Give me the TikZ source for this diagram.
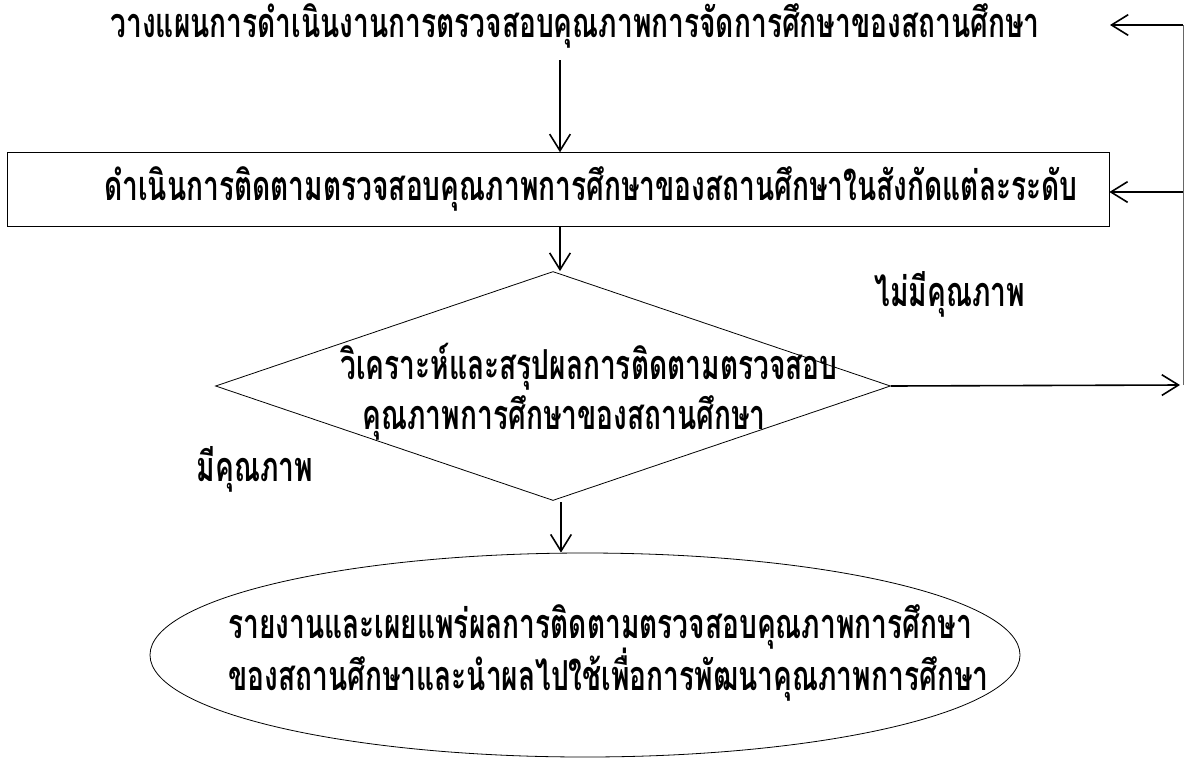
\documentclass[tikz,border=0pt]{standalone}
\usepackage{fontspec}
\newfontfamily\thai[Script=Thai,FakeStretch=0.68]{Loma}
\usetikzlibrary{arrows.meta,shapes.geometric}
\begin{document}
\begin{tikzpicture}[x=0.75pt,y=-0.75pt,
  txt/.style={font=\thai\bfseries\fontsize{31}{35}\selectfont, inner sep=0pt},
  arr/.style={-{Straight Barb[length=12.5pt,width=15.5pt]}, line width=1.2pt},
  thin/.style={line width=0.6pt}]
\useasboundingbox[fill=white] (0,0) rectangle (1191,764);
% texts
\node[txt, anchor=base] (t1) at (575,37) {วางแผนการดำเนินงานการตรวจสอบคุณภาพการจัดการศึกษาของสถานศึกษา};
\node[draw, thin, minimum width=826.5pt, minimum height=55.5pt, inner sep=0pt] (box) at (558,189.7) {};
\node[txt, anchor=base] (boxt) at (591,200) {ดำเนินการติดตามตรวจสอบคุณภาพการศึกษาของสถานศึกษาในสังกัดแต่ละระดับ};
\node[draw, thin, diamond, inner sep=0pt, aspect=2.95, minimum width=506.25pt, minimum height=171.75pt] (dia) at (553,386) {};
\node[txt, anchor=base] (d1) at (589,379) {วิเคราะห์และสรุปผลการติดตามตรวจสอบ};
\node[txt, anchor=base] (d2) at (564,429) {คุณภาพการศึกษาของสถานศึกษา};
\node[txt, anchor=base] (no) at (950,306) {ไม่มีคุณภาพ};
\node[txt, anchor=base] (yes) at (255,481) {มีคุณภาพ};
\node[draw, thin, ellipse, inner sep=0pt, minimum width=652.5pt, minimum height=153pt] (ell) at (585,655) {};
\node[txt, anchor=base west] (e1) at (228,638) {รายงานและเผยแพร่ผลการติดตามตรวจสอบคุณภาพการศึกษา};
\node[txt, anchor=base west] (e2) at (228,690) {ของสถานศึกษาและนำผลไปใช้เพื่อการพัฒนาคุณภาพการศึกษา};
% coordinates
\coordinate (a1) at (560,60);
\coordinate (a2) at (560,227);
\coordinate (a3) at (561,502);
\coordinate (fbtop) at (1183,25);
\coordinate (fbmid) at (1183,192);
\coordinate (fbbot) at (1183,385);
\coordinate (tipTop) at (1110,25);
\coordinate (tipBot) at (1180,385);
% connectors
\draw[arr] (a1) -- (a1 |- box.north);
\draw[arr] (a2) -- (a2 |- dia.north);
\draw[arr] (a3) -- (a3 |- ell.north);
\draw[arr] (dia.east) -- (tipBot);
\draw[thin, gray!80!black] (fbbot) -- (fbtop);
\draw[arr] (fbtop) -- (tipTop);
\draw[arr] (fbmid) -- (fbmid -| box.east);
\end{tikzpicture}
\end{document}
